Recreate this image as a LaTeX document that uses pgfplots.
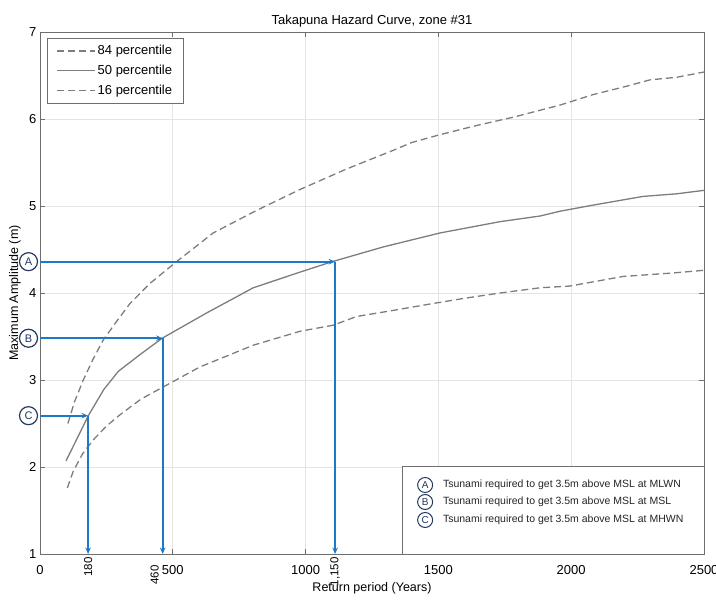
\documentclass[border=0pt]{standalone}
\usepackage{fontspec}
\setmainfont{Liberation Sans}
\usepackage{pgfplots}
\usepackage{pgfplotstable}
\pgfplotsset{compat=1.18}
\usetikzlibrary{arrows.meta}
\definecolor{curve}{RGB}{125,125,125}
\definecolor{arrowblue}{RGB}{30,120,200}
\definecolor{navy}{RGB}{35,55,95}
\definecolor{gridc}{RGB}{228,228,228}
\definecolor{axisc}{RGB}{110,110,110}

\pgfplotstableread{
x y
105 2.50
130 2.75
163 3.00
200 3.24
238 3.46
290 3.68
339 3.88
414 4.11
514 4.36
652 4.69
816 4.95
979 5.19
1150 5.42
1330 5.64
1400 5.73
1506 5.82
1650 5.93
1781 6.02
1958 6.16
2082 6.28
2200 6.37
2297 6.45
2398 6.48
2500 6.54
}\pupper

\pgfplotstableread{
x y
98 2.07
140 2.33
182 2.59
240 2.89
295 3.10
380 3.30
460 3.48
627 3.77
803 4.06
979 4.24
1100 4.36
1293 4.53
1506 4.69
1732 4.82
1883 4.885
1958 4.94
2082 5.01
2270 5.11
2397 5.14
2500 5.18
}\pmid

\pgfplotstableread{
x y
103 1.76
125 1.95
160 2.15
200 2.31
250 2.47
301 2.60
380 2.78
464 2.92
602 3.15
803 3.40
979 3.56
1104 3.63
1192 3.73
1330 3.80
1481 3.88
1600 3.94
1732 4.00
1883 4.06
1995 4.08
2195 4.19
2383 4.23
2496 4.26
}\plower

\tikzset{blarrow/.style={draw=arrowblue, line width=1.8pt, -{Stealth[length=6.5pt,width=5.5pt]}}}

\begin{document}
\begin{tikzpicture}
\begin{axis}[
  scale only axis, width=664pt, height=522pt,
  xmin=0, xmax=2500, ymin=1, ymax=7,
  xtick={0,500,1000,1500,2000,2500}, ytick={1,2,3,4,5,6,7},
  scaled x ticks=false,
  /pgf/number format/1000 sep={},
  /pgf/number format/assume math mode=true,
  tick align=inside, major tick length=5pt, tick pos=both,
  grid=major, major grid style={gridc, line width=0.8pt},
  axis line style={axisc, line width=0.9pt},
  tick style={axisc, line width=0.8pt},
  ticklabel style={font=\fontsize{13}{15}\selectfont, black},
  xticklabel style={yshift=-8pt},
  title={Takapuna Hazard Curve, zone \#31},
  title style={at={(axis description cs:0.5,1)}, anchor=center, yshift=5pt, font=\fontsize{13}{15}\selectfont},
  xlabel={Return period (Years)},
  xlabel style={at={(axis description cs:0.5,0)}, anchor=center, yshift=-34pt, font=\fontsize{12.5}{15}\selectfont},
  ylabel={Maximum Amplitude (m)},
  ylabel style={at={([xshift=-25pt]axis description cs:0,0.5)}, anchor=center, font=\fontsize{12.5}{15}\selectfont},
  clip=false,
  legend image code/.code={\draw[#1] (0pt,0pt) -- (38pt,0pt);},
  legend style={at={(axis description cs:0,1)}, anchor=north west, xshift=7pt, yshift=-6pt,
    draw=axisc, line width=0.8pt, fill=white, font=\fontsize{13}{15}\selectfont,
    row sep=5pt, inner xsep=9pt, inner ysep=5pt, cells={anchor=west}},
]
\addplot[curve, line width=1.3pt, dash pattern=on 7pt off 4pt] table {\pupper};
\addlegendentry{84 percentile}
\addplot[curve, line width=1.3pt] table {\pmid};
\addlegendentry{50 percentile}
\addplot[curve, line width=1.3pt, dash pattern=on 7pt off 4pt] table {\plower};
\addlegendentry{16 percentile}

% arrows
\addplot[blarrow, forget plot] coordinates {(0,4.36) (1111,4.36)};
\addplot[blarrow, forget plot] coordinates {(1111,4.36) (1111,1)};
\addplot[blarrow, forget plot] coordinates {(0,3.48) (462,3.48)};
\addplot[blarrow, forget plot] coordinates {(462,3.48) (462,1)};
\addplot[blarrow, forget plot] coordinates {(0,2.59) (181,2.59)};
\addplot[blarrow, forget plot] coordinates {(181,2.59) (181,1)};

% circled letters on the y axis
\node[circle, draw=navy, line width=1.2pt, fill=white, minimum size=18pt, inner sep=0pt, text=navy, font=\fontsize{11}{13}\selectfont] at ([xshift=-11.5pt]axis cs:0,4.36) {A};
\node[circle, draw=navy, line width=1.2pt, fill=white, minimum size=18pt, inner sep=0pt, text=navy, font=\fontsize{11}{13}\selectfont] at ([xshift=-11.5pt]axis cs:0,3.48) {B};
\node[circle, draw=navy, line width=1.2pt, fill=white, minimum size=18pt, inner sep=0pt, text=navy, font=\fontsize{11}{13}\selectfont] at ([xshift=-11.5pt]axis cs:0,2.59) {C};

% rotated value labels
\node[rotate=90, anchor=east, font=\fontsize{11.5}{13}\selectfont] at (axis cs:181,1) {180};
\node[rotate=90, anchor=east, font=\fontsize{11.5}{13}\selectfont] at ([xshift=-8pt]axis cs:462,1) {460\hspace*{8pt}};
\node[rotate=90, anchor=east, font=\fontsize{11.5}{13}\selectfont] at (axis cs:1111,1) {1,150};

% annotation box
\draw[axisc, line width=0.7pt, fill=white] (axis cs:1363,1) rectangle (axis cs:2500,2.01);
\node[circle, draw=navy, line width=1.0pt, minimum size=15pt, inner sep=0pt, text=navy, font=\fontsize{10}{12}\selectfont] at (axis cs:1450,1.793) {A};
\node[circle, draw=navy, line width=1.0pt, minimum size=15pt, inner sep=0pt, text=navy, font=\fontsize{10}{12}\selectfont] at (axis cs:1450,1.598) {B};
\node[circle, draw=navy, line width=1.0pt, minimum size=15pt, inner sep=0pt, text=navy, font=\fontsize{10}{12}\selectfont] at (axis cs:1450,1.391) {C};
\node[anchor=west, font=\fontsize{10.5}{12}\selectfont, text=black!85] at (axis cs:1504,1.793) {Tsunami required to get 3.5m above MSL at MLWN};
\node[anchor=west, font=\fontsize{10.5}{12}\selectfont, text=black!85] at (axis cs:1504,1.598) {Tsunami required to get 3.5m above MSL at MSL};
\node[anchor=west, font=\fontsize{10.5}{12}\selectfont, text=black!85] at (axis cs:1504,1.391) {Tsunami required to get 3.5m above MSL at MHWN};
\end{axis}
\pgfresetboundingbox
\path ([shift={(-40pt,-45pt)}]current axis.south west) rectangle ([shift={(12pt,32pt)}]current axis.north east);
\end{tikzpicture}
\end{document}
